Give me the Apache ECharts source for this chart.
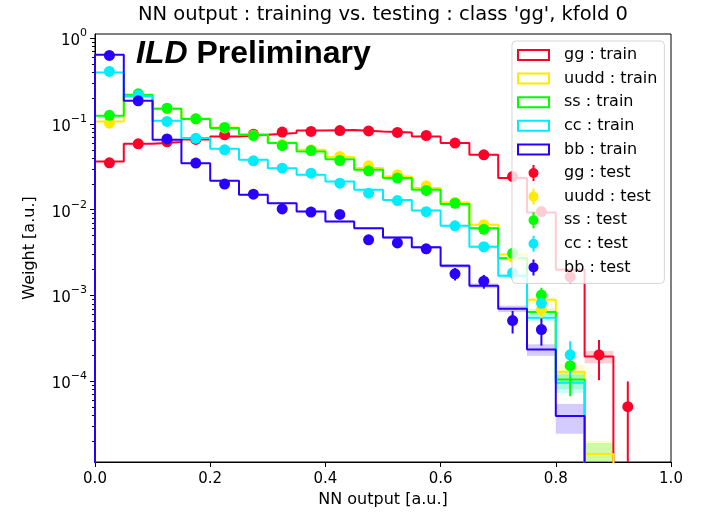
<!DOCTYPE html>
<html><head><meta charset="utf-8">
<script src="https://cdn.jsdelivr.net/npm/echarts@6/dist/echarts.min.js"></script>
<style>html,body{margin:0;padding:0;background:#fff}#c{width:705px;height:514px}</style>
</head><body><div id="c"></div>
<script>
// ---- data ----
const binEdges = [0.00,0.05,0.10,0.15,0.20,0.25,0.30,0.35,0.40,0.45,0.50,0.55,0.60,0.65,0.70,0.75,0.80,0.85,0.90,0.95,1.00];
const binCenters = [0.025,0.075,0.125,0.175,0.225,0.275,0.325,0.375,0.425,0.475,0.525,0.575,0.625,0.675,0.725,0.775,0.825,0.875,0.925,0.975];
const classNames = ['gg','uudd','ss','cc','bb'];
const classColors = ['#ff0029','#ffea00','#00ff00','#00ecff','#2900ff'];

const trainGG   = [0.0365,0.0588,0.0615,0.0657,0.0715,0.0748,0.0785,0.0840,0.0850,0.0818,0.0796,0.0715,0.0598,0.0437,0.0234,0.0093,0.00200,0.000194,0,0];
const trainUUDD = [0.107,0.215,0.152,0.116,0.091,0.076,0.061,0.050,0.0411,0.0306,0.0244,0.0179,0.0121,0.0067,0.0030,0.00089,0.000129,0.0000142,0,0];
const trainSS   = [0.125,0.219,0.150,0.114,0.0895,0.0748,0.0598,0.0478,0.0389,0.0292,0.0234,0.0171,0.0117,0.0061,0.00272,0.00064,0.000105,0.000009,0,0];
const trainCC   = [0.399,0.209,0.109,0.0685,0.0514,0.0382,0.0305,0.0255,0.0213,0.0171,0.0130,0.0098,0.0065,0.0037,0.0017,0.00055,0.000096,0,0,0];
const trainBB   = [0.642,0.187,0.0654,0.0349,0.0217,0.0149,0.0119,0.00953,0.00728,0.0061,0.00474,0.00365,0.00222,0.0013,0.0007,0.000234,0.0000394,0,0,0];

const bandGG   = [0.00045,0.00057,0.00058,0.0006,0.00063,0.00064,0.00066,0.00068,0.00068,0.00067,0.00066,0.00063,0.00057,0.00049,0.00036,0.00023,0.000105,0.000032,0,0];
const bandUUDD = [0.00077,0.0011,0.00091,0.0008,0.00071,0.00065,0.00058,0.00052,0.00048,0.00041,0.00037,0.00031,0.00026,0.00019,0.00013,0.00007,0.000027,0.000006,0,0];
const bandSS   = [0.00083,0.0011,0.00091,0.00079,0.0007,0.00064,0.00057,0.00051,0.00046,0.0004,0.00036,0.00031,0.00025,0.00018,0.00012,0.00006,0.000024,0.000010,0,0];
const bandCC   = [0.0015,0.0011,0.00077,0.00061,0.00053,0.00046,0.00041,0.00037,0.00034,0.00031,0.00027,0.00023,0.00019,0.00014,0.0001,0.000055,0.000023,0,0,0];
const bandBB   = [0.0019,0.001,0.0006,0.00044,0.00035,0.00029,0.00026,0.00023,0.0002,0.00018,0.00016,0.00014,0.00011,0.000085,0.00006,0.000036,0.000015,0,0,0];

const testGG   = [0.0352,0.0587,0.0620,0.0660,0.0748,0.0760,0.0805,0.0818,0.0838,0.0830,0.0796,0.0734,0.0598,0.0437,0.0244,0.00953,0.00165,0.000203,0.0000505,null];
const testUUDD = [0.102,0.218,0.150,0.115,0.090,0.074,0.058,0.050,0.0418,0.0325,0.0255,0.0190,0.0122,0.0067,0.0028,0.00068,null,null,null,null];
const testSS   = [0.126,0.225,0.153,0.115,0.091,0.0733,0.0561,0.049,0.0375,0.0284,0.0234,0.0168,0.0119,0.0059,0.0031,0.00101,0.000152,null,null,null];
const testCC   = [0.410,0.215,0.107,0.068,0.050,0.0372,0.0305,0.0267,0.0204,0.0156,0.0128,0.0095,0.0065,0.0037,0.00183,0.00081,0.000203,null,null,null];
const testBB   = [0.630,0.186,0.067,0.035,0.0199,0.0152,0.0102,0.0094,0.0088,0.00446,0.0041,0.0035,0.00179,0.00147,0.00051,0.00040,null,null,null,null];

const errGG   = [0.0013,0.0017,0.0018,0.0018,0.0019,0.0019,0.0020,0.0020,0.0020,0.0020,0.0020,0.0019,0.0017,0.0015,0.0011,0.00069,0.00029,0.00010,0.000049,null];
const errUUDD = [0.0023,0.0033,0.0027,0.0024,0.0021,0.0019,0.0017,0.0016,0.0014,0.0013,0.0011,0.00097,0.00078,0.00058,0.00037,0.00018,null,null,null,null];
const errSS   = [0.0025,0.0034,0.0028,0.0024,0.0021,0.0019,0.0017,0.0016,0.0014,0.0012,0.0011,0.00092,0.00077,0.00054,0.00039,0.00022,0.000085,null,null,null];
const errCC   = [0.0045,0.0033,0.0023,0.0018,0.0016,0.0014,0.0012,0.0012,0.0010,0.00088,0.0008,0.00069,0.00057,0.00043,0.0003,0.0002,0.00009,null,null,null];
const errBB   = [0.0056,0.0030,0.0018,0.0013,0.0010,0.00087,0.00071,0.00069,0.00066,0.00047,0.00045,0.00042,0.0003,0.00027,0.00015,0.00014,null,null,null,null];

const yMajorTicks = [1e-4,1e-3,1e-2,1e-1,1];
const yMinorMantissas = [2,3,4,5,6,7,8,9];
const yMinorDecades = [-5,-4,-3,-2,-1];
const xTickLabels = ['0.0','0.2','0.4','0.6','0.8','1.0'];
const Y_MIN = 1.143e-5, Y_MAX = 1.12;

const trainVals = [trainGG,trainUUDD,trainSS,trainCC,trainBB];
const bandVals  = [bandGG,bandUUDD,bandSS,bandCC,bandBB];
const testVals  = [testGG,testUUDD,testSS,testCC,testBB];
const errVals   = [errGG,errUUDD,errSS,errCC,errBB];

// ---- build ----
const TINY = 1e-9;
const yMinorTicks = [];
yMinorDecades.forEach(d => yMinorMantissas.forEach(m => { const v = m * Math.pow(10, d); if (v > Y_MIN && v < Y_MAX) yMinorTicks.push(v); }));

function hexA(hex, a){ const r=parseInt(hex.slice(1,3),16),g=parseInt(hex.slice(3,5),16),b=parseInt(hex.slice(5,7),16); return `rgba(${r},${g},${b},${a})`; }

const series = [];
// bands
classNames.forEach((c, k) => {
  const data = [];
  trainVals[k].forEach((v, i) => { if (v > 0 && bandVals[k][i] > 0) data.push([binEdges[i], binEdges[i+1], v, bandVals[k][i]]); });
  series.push({
    type:'custom', clip:true, silent:true, z:1, encode:{x:0, y:2},
    data,
    renderItem(params, api){
      const x0=api.value(0), x1=api.value(1), v=api.value(2), e=api.value(3);
      const p1 = api.coord([x0, v+e]);
      const p2 = api.coord([x1, Math.max(v-e, TINY)]);
      return {type:'rect', shape:{x:p1[0], y:p1[1], width:p2[0]-p1[0], height:p2[1]-p1[1]}, style:{fill: hexA(classColors[k], 0.2)}};
    }
  });
});
// train step lines
classNames.forEach((c, k) => {
  const data = [[binEdges[0], TINY]];
  trainVals[k].forEach((v, i) => data.push([binEdges[i], v > 0 ? v : TINY]));
  data.push([binEdges[binEdges.length-1], TINY]);
  series.push({
    name: c + ' : train', type:'line', step:'end', data, z:2, clip:true,
    showSymbol:false, symbol:'none', color: classColors[k],
    lineStyle:{color: classColors[k], width:2}, silent:true
  });
});
// test points with error bars
classNames.forEach((c, k) => {
  const eb = [], pts = [];
  testVals[k].forEach((v, i) => { if (v != null) { eb.push([binCenters[i], v, errVals[k][i]]); pts.push([binCenters[i], v]); } });
  series.push({
    type:'custom', clip:true, silent:true, z:3, encode:{x:0, y:1}, data: eb,
    renderItem(params, api){
      const x=api.value(0), v=api.value(1), e=api.value(2);
      const p1 = api.coord([x, v+e]);
      const p2 = api.coord([x, Math.max(v-e, TINY)]);
      return {type:'line', shape:{x1:p1[0], y1:p1[1], x2:p2[0], y2:p2[1]}, style:{stroke: classColors[k], lineWidth:2}};
    }
  });
  series.push({
    name: c + ' : test', type:'scatter', data: pts, z:3, symbol:'circle', symbolSize:11,
    color: classColors[k], itemStyle:{color: classColors[k], opacity:1}, silent:true
  });
});

const legendData = [];
classNames.forEach((c, k) => legendData.push({
  name: c + ' : train', icon:'path://M0,0 h31 v10 h-31 z',
  itemStyle:{color:'rgba(0,0,0,0)', borderColor: classColors[k], borderWidth:2}
}));
classNames.forEach((c, k) => legendData.push({
  name: c + ' : test', icon:'path://M4,0 h2 v16 h-2 z M0,8 a5,5 0 1,1 10,0 a5,5 0 1,1 -10,0 z',
  itemStyle:{color: classColors[k], borderWidth:0}
}));

const supMinus = n => n < 0 ? '\u2212' + (-n) : '' + n;

const chart = echarts.init(document.getElementById('c'), null, {renderer:'canvas'});
chart.setOption({
  animation:false,
  backgroundColor:'#fff',
  textStyle:{fontFamily:'DejaVu Sans'},
  title:[
    {text:"NN output : training vs. testing : class 'gg', kfold 0", left:383, top:5, textAlign:'center', padding:0,
     textStyle:{fontSize:19.5, fontWeight:'normal', color:'#000', fontFamily:'DejaVu Sans'}},
    {text:'{a|ILD} {b|Preliminary}', left:136, top:38, padding:0,
     textStyle:{fontSize:32, fontWeight:'bold', color:'#000', fontFamily:'Liberation Sans',
       rich:{a:{fontSize:32, fontStyle:'italic', fontWeight:'bold', color:'#000', fontFamily:'Liberation Sans'},
             b:{fontSize:32, fontWeight:'bold', color:'#000', fontFamily:'Liberation Sans'}}}}
  ],
  grid:{left:95, right:34, top:34, bottom:52, show:true, borderColor:'#000', borderWidth:1, backgroundColor:'rgba(0,0,0,0)'},
  legend:{
    orient:'vertical', left:512, top:41, padding:[6,7,8,5], itemGap:7.6, itemWidth:31, itemHeight:16,
    selectedMode:false, backgroundColor:'rgba(255,255,255,0.8)', borderColor:'rgba(204,204,204,0.8)', borderWidth:1, borderRadius:4,
    symbolKeepAspect:true,
    textStyle:{fontSize:16, color:'#000', fontFamily:'DejaVu Sans', padding:[0,0,0,10], lineHeight:16},
    data: legendData
  },
  xAxis:{
    type:'value', min:0, max:1, interval:0.2,
    axisLine:{show:true, onZero:false, lineStyle:{color:'#000', width:1}},
    axisTick:{show:true, length:5, lineStyle:{color:'#000', width:1}},
    axisLabel:{fontSize:15, color:'#000', margin:10, fontFamily:'DejaVu Sans', formatter:(v) => xTickLabels[Math.round(v/0.2)]},
    splitLine:{show:false},
    name:'NN output [a.u.]', nameLocation:'middle', nameGap:29,
    nameTextStyle:{fontSize:16, color:'#000', fontFamily:'DejaVu Sans'}
  },
  yAxis:[{
    type:'log', logBase:10, min:Y_MIN, max:Y_MAX,
    axisLine:{show:true, lineStyle:{color:'#000', width:1}},
    axisTick:{show:true, length:5, lineStyle:{color:'#000', width:1}, customValues: yMajorTicks},
    minorTick:{show:false}, splitLine:{show:false},
    axisLabel:{customValues: yMajorTicks, margin:8, color:'#000',
      formatter:(v) => '{b|10}{s|' + supMinus(Math.round(Math.log10(v))) + '}',
      rich:{b:{fontSize:15, fontFamily:'DejaVu Sans', color:'#000', padding:[6,0,0,0], verticalAlign:'bottom'},
            s:{fontSize:11, fontFamily:'DejaVu Sans', color:'#000', verticalAlign:'top', lineHeight:12}}},
    name:'Weight [a.u.]', nameLocation:'middle', nameGap:57,
    nameTextStyle:{fontSize:16, color:'#000', fontFamily:'DejaVu Sans'}
  },{
    type:'log', logBase:10, min:Y_MIN, max:Y_MAX, position:'left',
    axisLine:{show:false}, axisLabel:{show:false}, splitLine:{show:false}, minorTick:{show:false},
    axisTick:{show:true, length:3, lineStyle:{color:'#000', width:1}, customValues: yMinorTicks}
  }],
  series
});
</script></body></html>
